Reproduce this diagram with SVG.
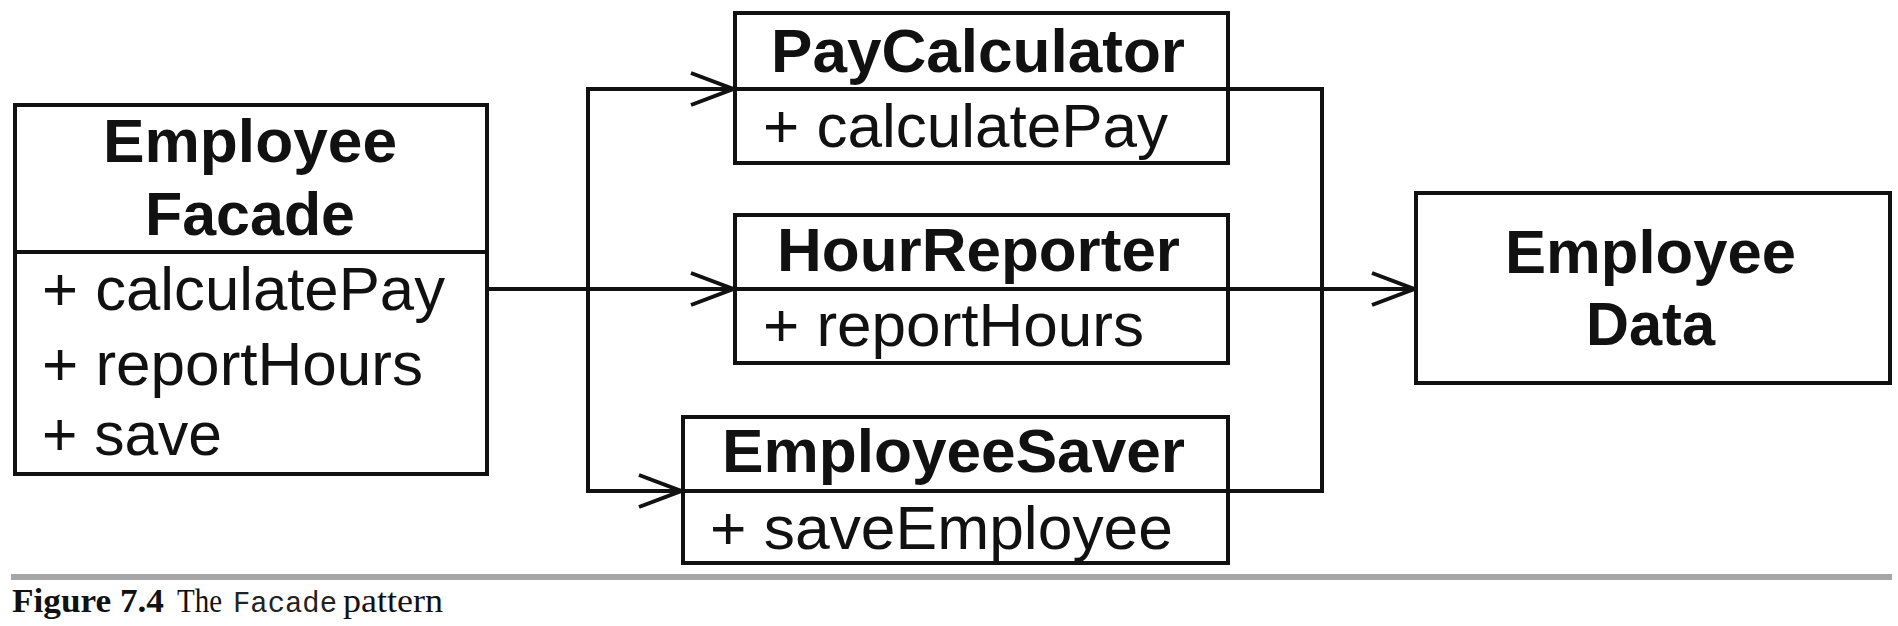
<svg xmlns="http://www.w3.org/2000/svg" width="1898" height="626" viewBox="0 0 1898 626">
<style>
.box{fill:#fff;stroke:#111;stroke-width:4}
.div{stroke:#111;stroke-width:4;fill:none}
.conn{stroke:#111;stroke-width:4;fill:none}
.title{font-family:"Liberation Sans",Arial,sans-serif;font-weight:bold;font-size:62px;fill:#111}
.member{font-family:"Liberation Sans",Arial,sans-serif;font-size:62px;fill:#111}
.cap{font-family:"Liberation Serif","Times New Roman",serif;font-size:34px;fill:#111}
.capb{font-weight:bold}
.mono{font-family:"Liberation Mono","Courier New",monospace;font-size:30px;fill:#222}
</style>
<defs>
<marker id="open" viewBox="0 0 46 36" refX="44" refY="18" markerWidth="46" markerHeight="36" markerUnits="userSpaceOnUse" orient="auto">
<path d="M2,2 L44,18 L2,34" fill="none" stroke="#111" stroke-width="4" stroke-linejoin="miter"/>
</marker>
</defs>
<rect x="0" y="0" width="1898" height="626" fill="#fff"/>

<g id="employee-facade">
<rect class="box" x="15" y="105" width="472" height="369"/>
<line class="div" x1="15" y1="252" x2="487" y2="252"/>
<text class="title" x="103" y="162" textLength="294" lengthAdjust="spacingAndGlyphs">Employee</text>
<text class="title" x="145" y="235" textLength="210" lengthAdjust="spacingAndGlyphs">Facade</text>
<text class="member" x="42" y="310" textLength="403" lengthAdjust="spacingAndGlyphs">+ calculatePay</text>
<text class="member" x="42" y="385" textLength="381" lengthAdjust="spacingAndGlyphs">+ reportHours</text>
<text class="member" x="42" y="455" textLength="180" lengthAdjust="spacingAndGlyphs">+ save</text>
</g>

<g id="pay-calculator">
<rect class="box" x="735" y="13" width="493" height="150"/>
<line class="div" x1="735" y1="89" x2="1228" y2="89"/>
<text class="title" x="771" y="72" textLength="414" lengthAdjust="spacingAndGlyphs">PayCalculator</text>
<text class="member" x="763" y="147" textLength="405" lengthAdjust="spacingAndGlyphs">+ calculatePay</text>
</g>

<g id="hour-reporter">
<rect class="box" x="735" y="215" width="493" height="148"/>
<line class="div" x1="735" y1="289" x2="1228" y2="289"/>
<text class="title" x="777" y="271" textLength="403" lengthAdjust="spacingAndGlyphs">HourReporter</text>
<text class="member" x="763" y="346" textLength="381" lengthAdjust="spacingAndGlyphs">+ reportHours</text>
</g>

<g id="employee-saver">
<rect class="box" x="683" y="417" width="545" height="146"/>
<line class="div" x1="683" y1="491" x2="1228" y2="491"/>
<text class="title" x="722" y="472" textLength="463" lengthAdjust="spacingAndGlyphs">EmployeeSaver</text>
<text class="member" x="710" y="549" textLength="463" lengthAdjust="spacingAndGlyphs">+ saveEmployee</text>
</g>

<g id="employee-data">
<rect class="box" x="1416" y="193" width="474" height="190"/>
<text class="title" x="1505" y="273" textLength="291" lengthAdjust="spacingAndGlyphs">Employee</text>
<text class="title" x="1586" y="345" textLength="129" lengthAdjust="spacingAndGlyphs">Data</text>
</g>

<g id="connectors">
<path class="conn" d="M487,289 H733" marker-end="url(#open)"/>
<path class="conn" d="M588,289 V89 H733" marker-end="url(#open)"/>
<path class="conn" d="M588,289 V491 H681" marker-end="url(#open)"/>
<path class="conn" d="M1228,89 H1322 V491 H1228"/>
<path class="conn" d="M1228,289 H1414" marker-end="url(#open)"/>
</g>

<g id="caption">
<rect x="11" y="574" width="1881" height="6" fill="#a6a6a6"/>
<text class="cap capb" x="12" y="612" textLength="152" lengthAdjust="spacingAndGlyphs">Figure 7.4</text>
<text class="cap" x="177" y="612" textLength="45" lengthAdjust="spacingAndGlyphs">The</text>
<text class="mono" x="233" y="612" textLength="104" lengthAdjust="spacingAndGlyphs">Facade</text>
<text class="cap" x="343" y="612" textLength="100" lengthAdjust="spacingAndGlyphs">pattern</text>
</g>
</svg>
